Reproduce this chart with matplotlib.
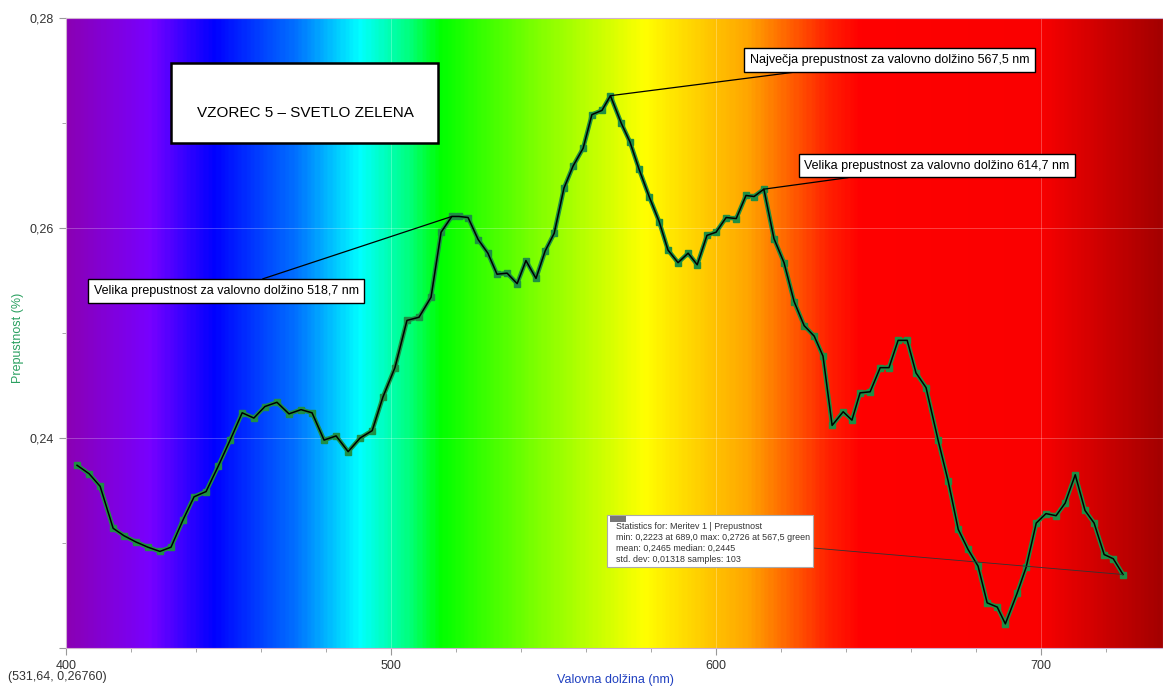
import numpy as np
import matplotlib
matplotlib.use("Agg")
from matplotlib import pyplot as plt
from matplotlib.colors import LinearSegmentedColormap
from matplotlib.patches import Rectangle
from matplotlib.ticker import MultipleLocator, FuncFormatter

plt.rcParams['font.family'] = ['Liberation Sans', 'DejaVu Sans']

wl = [403.4, 407.1, 410.5, 414.5, 417.8, 421.5, 425.2, 428.9, 432.3, 436.0,
      439.4, 443.1, 446.8, 450.5, 454.2, 457.8, 461.2, 464.9, 468.6, 472.3,
      475.7, 479.4, 483.1, 486.8, 490.5, 494.2, 497.5, 501.2, 504.9, 508.6,
      512.3, 515.4, 518.7, 520.9, 523.7, 526.8, 529.8, 532.6, 535.7, 538.8,
      541.5, 544.6, 547.4, 550.2, 553.2, 556.0, 559.1, 561.8, 564.9, 567.5,
      570.8, 573.5, 576.3, 579.4, 582.5, 585.2, 588.3, 591.4, 594.2, 597.2,
      600.0, 603.1, 606.2, 609.2, 611.7, 614.7, 617.8, 620.9, 624.0, 627.1,
      630.2, 632.9, 635.7, 639.1, 641.8, 644.3, 647.4, 650.5, 653.2, 656.0,
      658.8, 661.5, 664.6, 668.3, 671.4, 674.5, 677.5, 680.6, 683.4, 686.5,
      689.0, 692.6, 695.4, 698.5, 701.5, 704.6, 707.4, 710.5, 713.5, 716.3,
      719.4, 722.2, 725.2]
tr = [0.2374, 0.2366, 0.2354, 0.2314, 0.2307, 0.2301, 0.2296, 0.2292, 0.2296, 0.2322,
      0.2344, 0.2349, 0.2373, 0.2398, 0.2424, 0.2419, 0.2430, 0.2434, 0.2423, 0.2427,
      0.2424, 0.2398, 0.2402, 0.2387, 0.2400, 0.2407, 0.2439, 0.2467, 0.2512, 0.2515,
      0.2534, 0.2596, 0.2611, 0.2611, 0.2610, 0.2589, 0.2576, 0.2556, 0.2557, 0.2547,
      0.2569, 0.2552, 0.2578, 0.2595, 0.2638, 0.2659, 0.2676, 0.2708, 0.2712, 0.2726,
      0.2700, 0.2682, 0.2656, 0.2630, 0.2606, 0.2579, 0.2567, 0.2576, 0.2565, 0.2593,
      0.2596, 0.2610, 0.2609, 0.2631, 0.2630, 0.2637, 0.2590, 0.2567, 0.2530, 0.2507,
      0.2497, 0.2478, 0.2412, 0.2425, 0.2417, 0.2443, 0.2444, 0.2467, 0.2467, 0.2493,
      0.2493, 0.2462, 0.2448, 0.2398, 0.2359, 0.2313, 0.2294, 0.2278, 0.2243, 0.2239,
      0.2223, 0.2252, 0.2277, 0.2319, 0.2328, 0.2326, 0.2338, 0.2365, 0.2331, 0.2319,
      0.2289, 0.2285, 0.2270]

xlim = (400, 737.5)
ylim = (0.22, 0.28)

# spectrum background
spec_nm = [400, 425, 445, 470, 490, 505, 515, 545, 578, 610, 635, 645, 700, 737.5]
spec_col = ['#8a00b5', '#7800ff', '#0000ff', '#0070ff', '#00ffff', '#00ff80', '#00ff00',
            '#80ff00', '#ffff00', '#ffa500', '#ff2000', '#ff0000', '#fa0000', '#a40000']
pos = [(n - xlim[0]) / (xlim[1] - xlim[0]) for n in spec_nm]
cmap = LinearSegmentedColormap.from_list('spec', list(zip(pos, spec_col)))

fig = plt.figure(figsize=(11.63, 6.87), dpi=100)
ax = fig.add_axes([66 / 1163, 39 / 687, 1097 / 1163, 630 / 687])

grad = np.linspace(0, 1, 600).reshape(1, -1)
ax.imshow(grad, cmap=cmap, aspect='auto', extent=[xlim[0], xlim[1], ylim[0], ylim[1]],
          zorder=0, interpolation='bilinear')

for v in [500, 600, 700]:
    ax.axvline(v, color='white', lw=0.6, alpha=0.3, zorder=1)
for v in [0.24, 0.26]:
    ax.axhline(v, color='white', lw=0.6, alpha=0.3, zorder=1)

ax.plot(wl, tr, color='#1f8f45', lw=3.2, marker='s', ms=4, mec='#1f8f45', mfc='#1f8f45',
        zorder=3)
ax.plot(wl, tr, color='black', lw=1.1, zorder=4)

ax.set_xlim(*xlim)
ax.set_ylim(*ylim)
ax.xaxis.set_major_locator(MultipleLocator(100))
ax.xaxis.set_minor_locator(MultipleLocator(20))
ax.yaxis.set_major_locator(MultipleLocator(0.02))
ax.yaxis.set_minor_locator(MultipleLocator(0.01))
ax.yaxis.set_major_formatter(
    FuncFormatter(lambda v, p: '' if v < 0.225 else f"{v:.2f}".replace('.', ',')))
ax.tick_params(which='both', colors='#999999', labelcolor='#333333', labelsize=9,
               direction='out')
ax.tick_params(which='major', length=5)
ax.tick_params(which='minor', length=3)
for s in ax.spines.values():
    s.set_color('#d0b0d0')
    s.set_linewidth(0.8)

fig.text(615 / 1163, 1 - 680 / 687, 'Valovna dolžina (nm)', color='#2040c0', fontsize=9,
         ha='center', va='center')
fig.text(18 / 1163, 1 - 338 / 687, 'Prepustnost (%)', color='#2aa060', fontsize=9,
         ha='center', va='center', rotation=90)
fig.text(8 / 1163, 1 - 677 / 687, '(531,64, 0,26760)', fontsize=9, color='#333333',
         va='center', ha='left')


def fx(px):
    return (px - 66) / 1097


def fy(py):
    return (648 - py) / 630


# title box
ax.add_patch(Rectangle((fx(171), fy(143)), 267 / 1097, 80 / 630, transform=ax.transAxes,
                       facecolor='white', edgecolor='black', lw=1.8, zorder=5))
ax.text(fx(305), fy(113), 'VZOREC 5 – SVETLO ZELENA', transform=ax.transAxes,
        ha='center', va='center', fontsize=11, zorder=6)

box = dict(boxstyle='square,pad=0.45', facecolor='white', edgecolor='black', lw=1)
arr = dict(arrowstyle='-', color='black', lw=0.9, shrinkA=0, shrinkB=0)

i_max = 49
i_614 = 65
i_518 = 32
ax.annotate('Največja prepustnost za valovno dolžino 567,5 nm', xy=(wl[i_max], tr[i_max]),
            xytext=(fx(889.5), fy(60)), textcoords='axes fraction', ha='center',
            va='center', fontsize=9, bbox=box, arrowprops=arr, zorder=6)
ax.annotate('Velika prepustnost za valovno dolžino 614,7 nm', xy=(wl[i_614], tr[i_614]),
            xytext=(fx(937), fy(165.5)), textcoords='axes fraction', ha='center',
            va='center', fontsize=9, bbox=box, arrowprops=arr, zorder=6)
ax.annotate('Velika prepustnost za valovno dolžino 518,7 nm', xy=(wl[i_518], tr[i_518]),
            xytext=(fx(226), fy(291)), textcoords='axes fraction', ha='center',
            va='center', fontsize=9, bbox=box, arrowprops=arr, zorder=6)

# statistics box
stats = ("Statistics for: Meritev 1 | Prepustnost\n"
         "min: 0,2223 at 689,0 max: 0,2726 at 567,5 green\n"
         "mean: 0,2465 median: 0,2445\n"
         "std. dev: 0,01318 samples: 103")
ax.annotate('', xy=(wl[-1], tr[-1]), xytext=(fx(813), fy(548)),
            textcoords='axes fraction',
            arrowprops=dict(arrowstyle='-', color='#333333', lw=0.6, shrinkA=0, shrinkB=0),
            zorder=5)
ax.add_patch(Rectangle((fx(607), fy(567)), 206 / 1097, 52 / 630, transform=ax.transAxes,
                       facecolor='white', edgecolor='#aaaaaa', lw=0.8, zorder=6))
ax.add_patch(Rectangle((fx(610), fy(522)), 16 / 1097, 6 / 630, transform=ax.transAxes,
                       facecolor='#777777', edgecolor='none', zorder=7))
ax.text(fx(616), fy(522), stats, transform=ax.transAxes, ha='left', va='top',
        fontsize=6.4, color='#333333', linespacing=1.28, zorder=7)

fig.savefig('out.png', dpi=100)
